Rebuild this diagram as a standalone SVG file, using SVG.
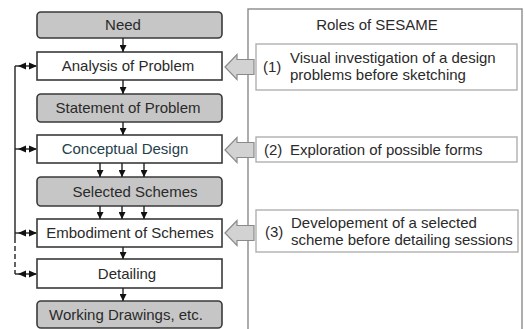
<svg xmlns="http://www.w3.org/2000/svg" width="525" height="329" viewBox="0 0 525 329">
<defs>
<style>
.t{font-family:"Liberation Sans",Arial,sans-serif;font-size:15px;fill:#2a2a2a}
.c{text-anchor:middle}
.gb{fill:#c6c6c6;stroke:#3a3a3a;stroke-width:1.6}
.wb{fill:#fff;stroke:#3a3a3a;stroke-width:1.6}
.rb{fill:#fff;stroke:#b0b0b0;stroke-width:1.4}
.ln{stroke:#222;stroke-width:1.4;fill:none}
.ba{fill:#d2d2d2;stroke:#8a8a8a;stroke-width:1.2}
</style>
<marker id="ah" viewBox="0 0 8 8" refX="8" refY="4" markerWidth="7" markerHeight="7" markerUnits="userSpaceOnUse" orient="auto">
<path d="M0,0 L8,4 L0,8 Z" fill="#111"/>
</marker>
</defs>
<rect id="panel" x="248" y="9" width="274" height="340" fill="#fff" stroke="#8a8a8a" stroke-width="1.4"/>
<text class="t c" x="377" y="30">Roles of SESAME</text>

<g id="need"><rect class="gb" x="37" y="12" width="185" height="26" rx="4"/><text class="t c" x="123" y="30">Need</text></g>
<g id="analysis"><rect class="wb" x="37" y="52" width="185" height="28"/><text class="t c" x="128" y="71">Analysis of Problem</text></g>
<g id="statement"><rect class="gb" x="37" y="94" width="185" height="28" rx="4"/><text class="t c" x="128" y="113">Statement of Problem</text></g>
<g id="conceptual"><rect class="wb" x="37" y="135" width="185" height="28"/><text class="t c" x="125" y="154" style="fill:#24404a">Conceptual Design</text></g>
<g id="selected"><rect class="gb" x="37" y="177" width="185" height="29" rx="4"/><text class="t c" x="135" y="197">Selected Schemes</text></g>
<g id="embodiment"><rect class="wb" x="37" y="219" width="185" height="28"/><text class="t c" x="130" y="238">Embodiment of Schemes</text></g>
<g id="detailing"><rect class="wb" x="37" y="259" width="185" height="29"/><text class="t c" x="127" y="279">Detailing</text></g>
<g id="working"><rect class="gb" x="37" y="301" width="185" height="27" rx="4"/><text class="t c" x="126" y="320">Working Drawings, etc.</text></g>

<g id="role1"><rect class="rb" x="256" y="44" width="261" height="46"/>
<text class="t" x="263" y="72">(1)</text>
<text class="t" x="290" y="63">Visual investigation of a design</text>
<text class="t" x="290" y="80">problems before sketching</text></g>
<g id="role2"><rect class="rb" x="256" y="137" width="261" height="25"/>
<text class="t" x="264" y="155">(2)</text>
<text class="t" x="290" y="155">Exploration of possible forms</text></g>
<g id="role3"><rect class="rb" x="256" y="210" width="262" height="42"/>
<text class="t" x="265" y="237">(3)</text>
<text class="t" x="291" y="228">Developement of a selected</text>
<text class="t" x="291" y="245">scheme before detailing sessions</text></g>

<g id="connectors">
<line class="ln" x1="123" y1="38" x2="123" y2="52" marker-end="url(#ah)"/>
<line class="ln" x1="123" y1="80" x2="123" y2="94" marker-end="url(#ah)"/>
<line class="ln" x1="123" y1="122" x2="123" y2="135" marker-end="url(#ah)"/>
<line class="ln" x1="100" y1="163" x2="100" y2="177" marker-end="url(#ah)"/>
<line class="ln" x1="122" y1="163" x2="122" y2="177" marker-end="url(#ah)"/>
<line class="ln" x1="144" y1="163" x2="144" y2="177" marker-end="url(#ah)"/>
<line class="ln" x1="100" y1="206" x2="100" y2="219" marker-end="url(#ah)"/>
<line class="ln" x1="122" y1="206" x2="122" y2="219" marker-end="url(#ah)"/>
<line class="ln" x1="144" y1="206" x2="144" y2="219" marker-end="url(#ah)"/>
<line class="ln" x1="123" y1="247" x2="123" y2="259" marker-end="url(#ah)"/>
<line class="ln" x1="123" y1="288" x2="123" y2="301" marker-end="url(#ah)"/>

<line class="ln" x1="15" y1="66" x2="15" y2="238"/>
<line class="ln" x1="15" y1="238" x2="15" y2="274" stroke-dasharray="5,3"/>
<g>
<line class="ln" x1="15" y1="66" x2="36" y2="66"/>
<path d="M18,66 L26,62.5 L26,69.5 Z M37,66 L29,62.5 L29,69.5 Z" fill="#111"/>
<line class="ln" x1="15" y1="149" x2="36" y2="149"/>
<path d="M18,149 L26,145.5 L26,152.5 Z M37,149 L29,145.5 L29,152.5 Z" fill="#111"/>
<line class="ln" x1="15" y1="233" x2="36" y2="233"/>
<path d="M18,233 L26,229.5 L26,236.5 Z M37,233 L29,229.5 L29,236.5 Z" fill="#111"/>
<line class="ln" x1="15" y1="274" x2="36" y2="274"/>
<path d="M18,274 L26,270.5 L26,277.5 Z M37,274 L29,270.5 L29,277.5 Z" fill="#111"/>
</g>

<path class="ba" d="M225,67 L237,54.5 L237,59.5 L254,59.5 L254,74.5 L237,74.5 L237,79.5 Z"/>
<path class="ba" d="M225,150 L237,137.5 L237,142.5 L254,142.5 L254,157.5 L237,157.5 L237,162.5 Z"/>
<path class="ba" d="M225,233 L237,220.5 L237,225.5 L254,225.5 L254,240.5 L237,240.5 L237,245.5 Z"/>
</g>
</svg>
